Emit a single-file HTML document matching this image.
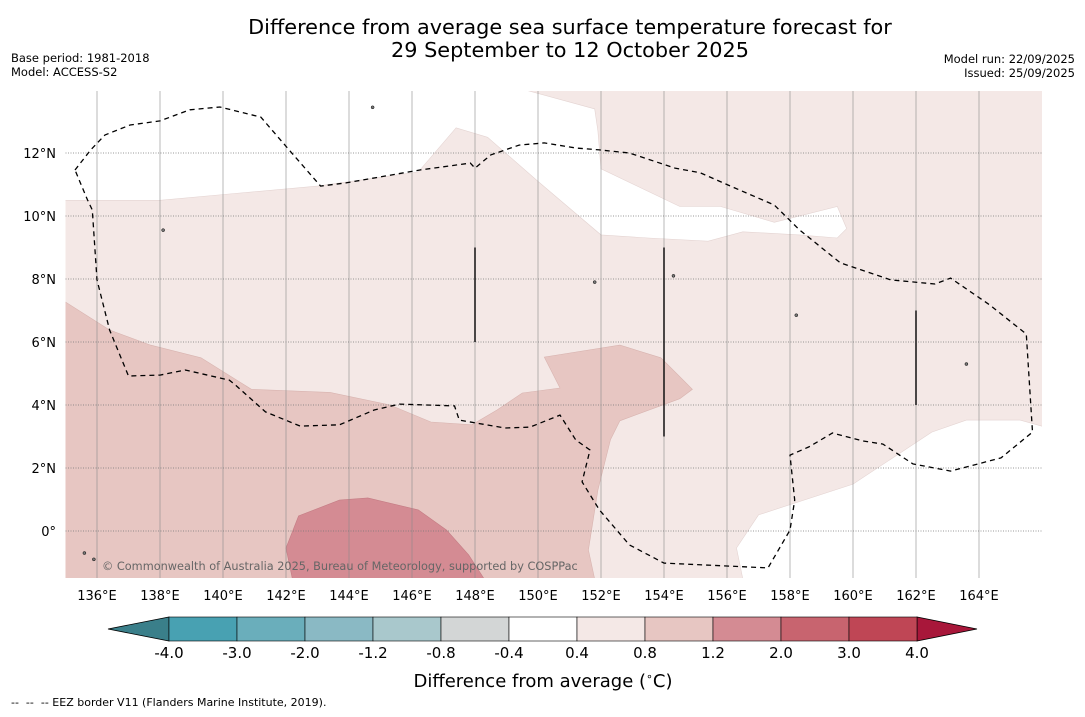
<!DOCTYPE html>
<html><head><meta charset="utf-8">
<style>
body{margin:0;background:#fff;width:1085px;height:713px;overflow:hidden;font-family:"DejaVu Sans","Liberation Sans",sans-serif;}
svg text{font-family:"DejaVu Sans","Liberation Sans",sans-serif;}
</style></head>
<body>
<svg id="chart" width="1085" height="713" xmlns="http://www.w3.org/2000/svg">
<text x="570" y="34" font-size="20.8" text-anchor="middle" fill="#000">Difference from average sea surface temperature forecast for</text>
<text x="570" y="57" font-size="20.8" text-anchor="middle" fill="#000">29 September to 12 October 2025</text>
<text x="11" y="62" font-size="11.5">Base period: 1981-2018</text>
<text x="11" y="76" font-size="11.5">Model: ACCESS-S2</text>
<text x="1075" y="63" font-size="11.5" text-anchor="end">Model run: 22/09/2025</text>
<text x="1075" y="77" font-size="11.5" text-anchor="end">Issued: 25/09/2025</text>
<defs><clipPath id="mapclip"><rect x="65.5" y="91" width="976.5" height="487"/></clipPath></defs>
<g id="map" clip-path="url(#mapclip)"></g>
<g id="axes"></g>
<g id="cbar"></g>
<text x="543" y="687" font-size="18" text-anchor="middle">Difference from average (<tspan font-size="11" dy="-7">∘</tspan><tspan dy="7">C)</tspan></text>
<text x="11" y="706" font-size="11" xml:space="preserve">--  --  -- EEZ border V11 (Flanders Marine Institute, 2019).</text>
</svg>
<script>
const NS="http://www.w3.org/2000/svg";
const lonTicks=[136,138,140,142,144,146,148,150,152,154,156,158,160,162,164];
const latTicks=[12,10,8,6,4,2,0];
const latLabels=["12°N","10°N","8°N","6°N","4°N","2°N","0°"];
const cbLevels=["-4.0","-3.0","-2.0","-1.2","-0.8","-0.4","0.4","0.8","1.2","2.0","3.0","4.0"];
const cbColors=["#48a1b2","#6aaebb","#8ab9c4","#a9c8cc","#d3d6d6","#ffffff","#f4e8e6","#e7c6c2","#d48b93","#c8646f","#bf4655"];
const cbUnder="#3a7f8a", cbOver="#a8173a";
const bg=[[135,14],[166,14],[166,-1.5],[135,-1.5]];
const white1=[[134,14],[149.6,14],[151.8,13.4],[151.9,12.7],[152,11.5],[154.5,10.3],[155.8,10.3],[157.5,9.8],[159.5,10.3],[159.8,9.6],[159.5,9.3],[158.3,9.4],[156.5,9.5],[155.4,9.2],[153.5,9.3],[152,9.4],[150,11.1],[148.4,12.5],[147.4,12.8],[146.2,11.4],[143,10.95],[140.2,10.7],[138,10.5],[134,10.5]];
const white2=[[167,3.05],[165.3,3.52],[163.6,3.52],[162.5,3.14],[160,1.49],[157,0.51],[156.3,-0.54],[156.6,-2],[167,-2]];
const medium=[[134,7.27],[135,7.27],[136.4,6.38],[137.7,5.9],[139.3,5.5],[140.9,4.5],[143.4,4.4],[145.3,4.0],[146.6,3.46],[147.9,3.37],[148.7,3.84],[149.5,4.38],[150.7,4.54],[150.2,5.52],[152.6,5.9],[153.9,5.5],[154.9,4.5],[154.5,4.2],[152.6,3.5],[152.3,2.9],[151.9,1.3],[151.6,-0.6],[151.9,-2],[134,-2]];
const dark=[[142.4,0.48],[143.7,0.98],[144.6,1.05],[146.2,0.67],[147.1,0.03],[147.8,-0.76],[148.6,-2],[142.3,-2],[142,-0.54]];
const eez=[[135.3,11.46],[135.8,12.1],[136.25,12.57],[137.05,12.89],[138,13.02],[138.95,13.37],[139.9,13.46],[141.2,13.14],[142.1,12.1],[143.1,10.95],[143.9,11.05],[146.25,11.46],[147.85,11.68],[148,11.52],[148.5,11.94],[149.4,12.25],[150.2,12.32],[151.2,12.16],[151.95,12.1],[152.9,12],[154.35,11.52],[155.15,11.37],[156.25,10.89],[157.5,10.35],[158.3,9.56],[159.6,8.51],[161.2,7.97],[162.6,7.84],[163.1,8.03],[164.35,7.17],[165.5,6.25],[165.7,3.14],[164.7,2.32],[163.1,1.9],[161.9,2.13],[160.95,2.76],[160.3,2.86],[159.35,3.11],[158.6,2.67],[158,2.41],[158.15,0.98],[158,0.03],[157.3,-1.17],[154,-1.02],[152.9,-0.44],[151.95,0.67],[151.4,1.56],[151.65,2.57],[151.2,2.89],[150.7,3.68],[149.75,3.3],[148.95,3.27],[147.5,3.52],[147.35,3.97],[145.6,4.03],[144.8,3.84],[143.7,3.37],[142.45,3.33],[141.35,3.78],[140.4,4.63],[140.2,4.79],[138.8,5.11],[138,4.95],[137,4.92],[136.4,6.38],[136,7.97],[135.85,10.19],[135.7,10.51],[135.3,11.46]];
const blackLines=[[148,9,6],[154,9,3],[162,7,4]];
const islands=[[144.75,13.45],[135.6,-0.7],[135.9,-0.9],[138.1,9.55],[151.8,7.9],[158.2,6.85],[163.6,5.3],[154.3,8.1]];

function X(lon){return 65.5+(lon-135)*31.5;}
function Y(lat){return 531-lat*31.5;}
function mk(tag,attrs,parent){const e=document.createElementNS(NS,tag);for(const k in attrs)e.setAttribute(k,attrs[k]);parent.appendChild(e);return e;}
function pts(a){return a.map(p=>X(p[0]).toFixed(1)+","+Y(p[1]).toFixed(1)).join(" ");}
const map=document.getElementById("map");
let e;
e=mk("polygon",{points:pts(bg),fill:"#f4e8e6"},map);


e=mk("polygon",{points:pts(white1),fill:"#ffffff",stroke:"#e4d4d2","stroke-width":0.6},map);


e=mk("polygon",{points:pts(white2),fill:"#ffffff",stroke:"#e4d4d2","stroke-width":0.6},map);


e=mk("polygon",{points:pts(medium),fill:"#e7c6c2",stroke:"#d8b4b0","stroke-width":0.6},map);


e=mk("polygon",{points:pts(dark),fill:"#d48b93",stroke:"#c47c84","stroke-width":0.6},map);


lonTicks.forEach(l=>{e=mk("line",{x1:X(l),x2:X(l),y1:91,y2:578,stroke:"#8a8a8a","stroke-width":0.6},map);

});
latTicks.forEach(l=>{e=mk("line",{x1:65.5,x2:1042,y1:Y(l),y2:Y(l),stroke:"#777","stroke-width":0.8,"stroke-dasharray":"1,1.5"},map);

});
e=mk("polyline",{points:pts(eez),fill:"none",stroke:"#000","stroke-width":1.3,"stroke-dasharray":"5,4"},map);


blackLines.forEach(b=>{e=mk("line",{x1:X(b[0]),x2:X(b[0]),y1:Y(b[1]),y2:Y(b[2]),stroke:"#111","stroke-width":1.5},map);

});
islands.forEach(p=>{e=mk("circle",{cx:X(p[0]),cy:Y(p[1]),r:1.5,fill:"#777",stroke:"#000","stroke-width":0.5},map);

});
e=mk("text",{x:102,y:570,"font-size":11.3,fill:"#666"},map);
e.textContent="© Commonwealth of Australia 2025, Bureau of Meteorology, supported by COSPPac";


const axes=document.getElementById("axes");
lonTicks.forEach(l=>{e=mk("text",{x:X(l),y:600,"font-size":13,"text-anchor":"middle"},axes);e.textContent=l+"°E";

});
latTicks.forEach((l,i)=>{e=mk("text",{x:56,y:Y(l)+5,"font-size":13,"text-anchor":"end"},axes);e.textContent=latLabels[i];

});
const cb=document.getElementById("cbar");
const cx0=169,cw=68,cy=617,ch=24;
e=mk("polygon",{points:`${cx0},${cy} ${cx0},${cy+ch} 108,${cy+ch/2}`,fill:cbUnder,stroke:"#000","stroke-width":0.8},cb);


const cxe=cx0+cw*cbColors.length;
e=mk("polygon",{points:`${cxe},${cy} ${cxe},${cy+ch} 977,${cy+ch/2}`,fill:cbOver,stroke:"#000","stroke-width":0.8},cb);


cbColors.forEach((c,i)=>{e=mk("rect",{x:cx0+i*cw,y:cy,width:cw,height:ch,fill:c,stroke:"#000","stroke-width":0.6},cb);

});
cbLevels.forEach((t,i)=>{e=mk("text",{x:cx0+i*cw,y:658,"font-size":15,"text-anchor":"middle"},cb);e.textContent=t;

});
</script>
</body></html>
